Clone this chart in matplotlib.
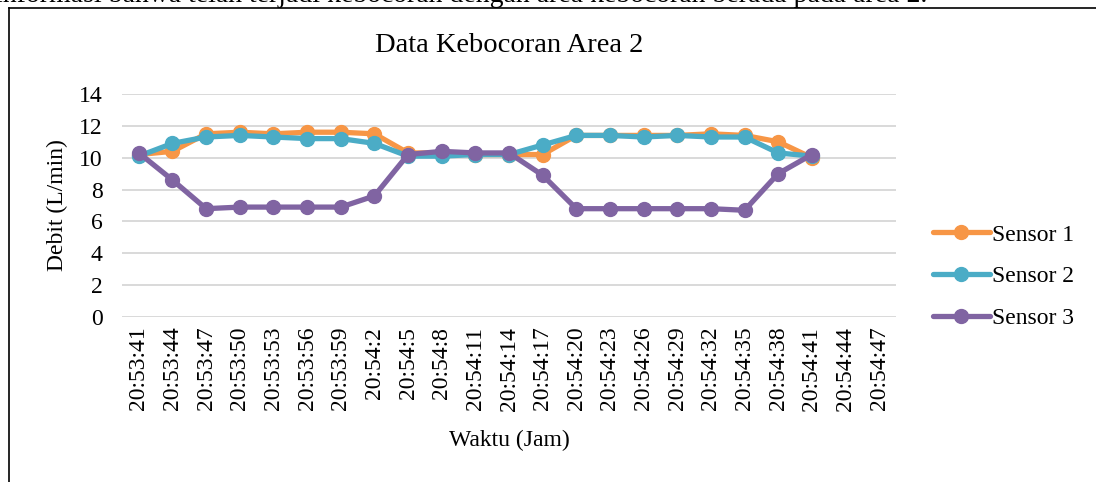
import matplotlib.pyplot as plt
from matplotlib.lines import Line2D

plt.rcParams['font.family'] = ['Liberation Serif', 'DejaVu Serif']

waktu = ['20:53:41', '20:53:44', '20:53:47', '20:53:50', '20:53:53', '20:53:56',
         '20:53:59', '20:54:2', '20:54:5', '20:54:8', '20:54:11', '20:54:14',
         '20:54:17', '20:54:20', '20:54:23', '20:54:26', '20:54:29', '20:54:32',
         '20:54:35', '20:54:38', '20:54:41', '20:54:44', '20:54:47']

sensor1 = [10.2, 10.4, 11.5, 11.6, 11.5, 11.6, 11.6, 11.5, 10.3, 10.3, 10.2, 10.2,
           10.2, 11.4, 11.4, 11.4, 11.4, 11.5, 11.4, 11.0, 10.0]
sensor2 = [10.1, 10.9, 11.3, 11.4, 11.3, 11.2, 11.2, 10.9, 10.1, 10.1, 10.2, 10.2,
           10.8, 11.4, 11.4, 11.3, 11.4, 11.3, 11.3, 10.3, 10.1]
sensor3 = [10.3, 8.6, 6.8, 6.9, 6.9, 6.9, 6.9, 7.6, 10.2, 10.4, 10.3, 10.3,
           8.9, 6.8, 6.8, 6.8, 6.8, 6.8, 6.7, 9.0, 10.2]

W, H = 1096, 482
fig = plt.figure(figsize=(W / 100, H / 100), dpi=100)
ax = fig.add_axes([122 / W, 1 - 317 / H, (896 - 122) / W, (317 - 94) / H])

warna = ['#F79646', '#4BACC6', '#8064A2']
for nama, data, c in zip(['Sensor 1', 'Sensor 2', 'Sensor 3'],
                         [sensor1, sensor2, sensor3], warna):
    ax.plot(range(len(data)), data, color=c, lw=3.8, marker='o', ms=10,
            label=nama, solid_capstyle='round')

ax.set_xlim(-0.5, len(waktu) - 0.5)
ax.set_ylim(0, 14)
ax.set_yticks(range(0, 15, 2))
ax.set_xticks(range(len(waktu)))
ax.set_xticklabels(waktu, rotation=90, va='top')
ax.tick_params(length=0, labelsize=17)
ax.tick_params(axis='x', pad=7)
ax.tick_params(axis='y', pad=14)
ax.grid(axis='y', color='#d9d9d9', lw=1.4)
ax.set_axisbelow(True)
for s in ax.spines.values():
    s.set_visible(False)

fig.text(509 / W, 1 - 46 / H, 'Data Kebocoran Area 2', fontsize=20.5,
         ha='center', va='center')
fig.text(509 / W, 1 - 440 / H, 'Waktu (Jam)', fontsize=17, ha='center', va='center')
fig.text(57 / W, 1 - 205 / H, 'Debit (L/min)', fontsize=17, ha='center',
         va='center', rotation=90)

ax.legend(loc='upper left', bbox_to_anchor=(933 / W, 1 - 224 / H),
          bbox_transform=fig.transFigure, frameon=False, fontsize=17,
          handlelength=2.4, handletextpad=0.1, labelspacing=0.86,
          borderpad=0, borderaxespad=0)

# potongan teks dokumen di atas gambar
fig.text(-5 / W, 1 - 2.5 / H,
         'informasi bahwa telah terjadi kebocoran dengan area kebocoran berada pada area 2.',
         fontsize=20, ha='left', va='baseline')

# bingkai
fig.add_artist(Line2D([8.5 / W, 1.01], [1 - 7.5 / H] * 2, color='black', lw=1.2,
                      transform=fig.transFigure))
fig.add_artist(Line2D([8.5 / W] * 2, [-0.01, 1 - 7.5 / H], color='black', lw=1.2,
                      transform=fig.transFigure))

fig.savefig('out.png', dpi=100)
